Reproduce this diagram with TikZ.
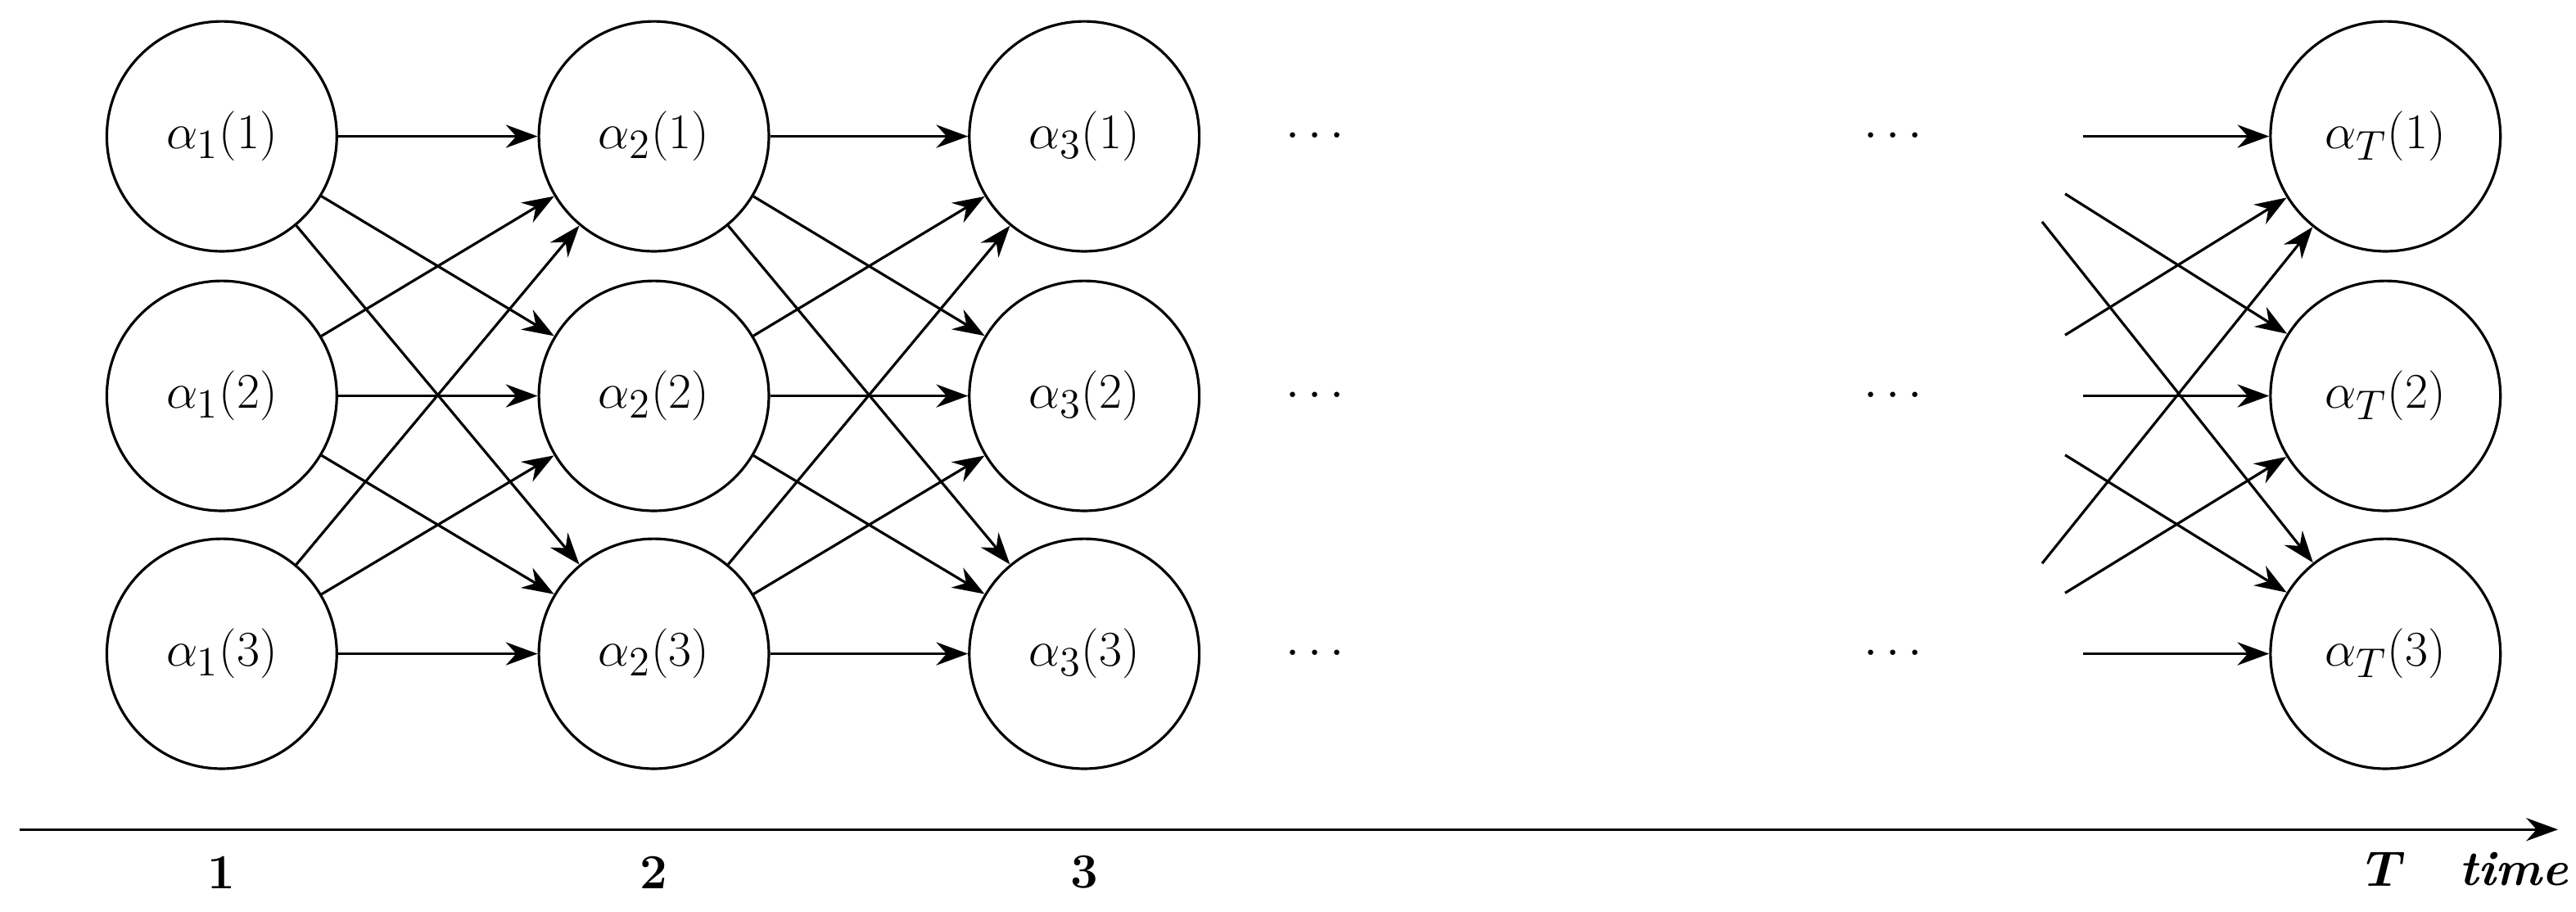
\documentclass[tikz,border=0pt]{standalone}
\usepackage{amsmath,bm}
\usetikzlibrary{arrows.meta}
\begin{document}
\begin{tikzpicture}[x=0.02cm,y=-0.02cm,
  st/.style={circle,draw,line width=0.9pt,minimum size=2.8cm,inner sep=0pt,font=\fontsize{19}{22}\selectfont},
  ar/.style={line width=0.9pt,-{Stealth[length=11pt,width=8pt]}},
  lb/.style={font=\fontsize{17}{20}\selectfont\bfseries},
  dt/.style={font=\fontsize{19}{22}\selectfont}]
\useasboundingbox (0,0) rectangle (1568,555);
\foreach \c/\x/\s in {1/135/1,2/398/2,3/660/3,T/1452/T}{
  \foreach \r/\y in {1/83,2/241,3/398}{
    \node[st] (n\c\r) at (\x,\y) {$\alpha_{\s}(\r)$};
  }
}
\foreach \a/\b in {1/2,2/3}{
  \foreach \i in {1,2,3}{\foreach \j in {1,2,3}{
    \draw[ar] (n\a\i) -- (n\b\j);
  }}
}
\foreach \r/\y in {1/83,2/241,3/398}{
  \node[dt] (da\r) at (803,\y) {$\cdots$};
  \node[dt] (db\r) at (1155,\y) {$\cdots$};
  \coordinate (h\r) at (1268,\y);
  \draw[ar] (h\r) -- (nT\r);
}
\coordinate (p1) at (1257,204); \coordinate (p2) at (1243,343);
\coordinate (q1) at (1257,118); \coordinate (q2) at (1257,361);
\coordinate (r1) at (1243,135); \coordinate (r2) at (1257,277);
\draw[ar] (p1) -- (nT1); \draw[ar] (p2) -- (nT1);
\draw[ar] (q1) -- (nT2); \draw[ar] (q2) -- (nT2);
\draw[ar] (r1) -- (nT3); \draw[ar] (r2) -- (nT3);
\coordinate (a0) at (12,505); \coordinate (a1) at (1557,505);
\draw[ar] (a0) -- (a1);
\node[lb] (l1) at (135,531) {1};
\node[lb] (l2) at (398,531) {2};
\node[lb] (l3) at (660,531) {3};
\node[lb] (lT) at (1452,529) {$\bm{T}$};
\node[lb] (lt) at (1530,529) {\itshape time};
\end{tikzpicture}
\end{document}
